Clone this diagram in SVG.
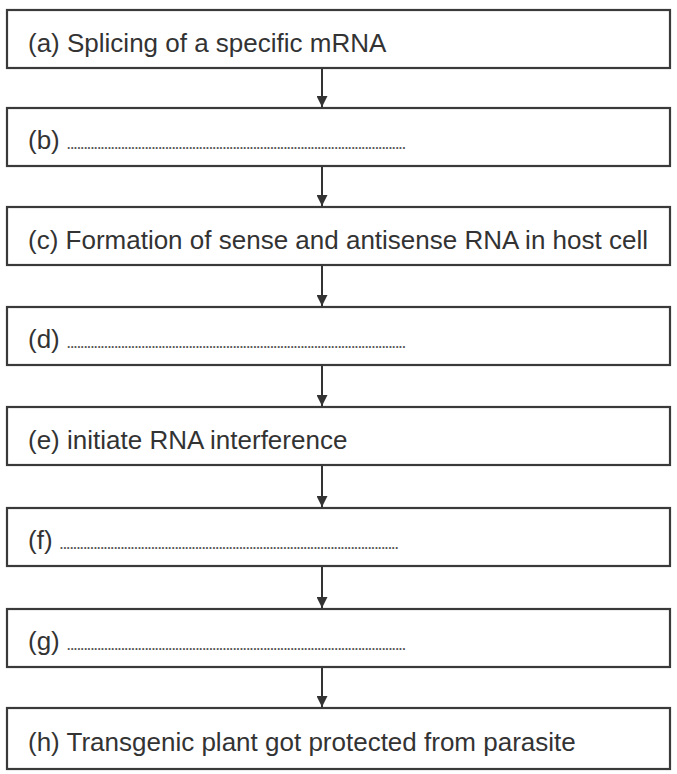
<svg xmlns="http://www.w3.org/2000/svg" width="677" height="774" viewBox="0 0 677 774">
<defs>
<style>
.box{fill:#fff;stroke:#3a3a3a;stroke-width:2.2}
.lbl{font-family:"Liberation Sans",Arial,sans-serif;font-size:26px;fill:#333}
.dots{font-size:12.2px;font-weight:bold;fill:#555}
.conn{stroke:#333;stroke-width:2;fill:none}
</style>
<marker id="ah" viewBox="0 0 10 10" refX="10" refY="5" markerWidth="11" markerHeight="11" markerUnits="userSpaceOnUse" orient="auto">
<path d="M0,0 L10,5 L0,10 Z" fill="#333"/>
</marker>
</defs>
<rect width="677" height="774" fill="#fff"/>
<g id="connectors">
<line class="conn" x1="322" y1="68" x2="322" y2="107" marker-end="url(#ah)"/>
<line class="conn" x1="322" y1="166" x2="322" y2="206" marker-end="url(#ah)"/>
<line class="conn" x1="322" y1="265" x2="322" y2="306" marker-end="url(#ah)"/>
<line class="conn" x1="322" y1="365" x2="322" y2="406" marker-end="url(#ah)"/>
<line class="conn" x1="322" y1="465" x2="322" y2="507" marker-end="url(#ah)"/>
<line class="conn" x1="322" y1="566" x2="322" y2="608" marker-end="url(#ah)"/>
<line class="conn" x1="322" y1="667" x2="322" y2="707" marker-end="url(#ah)"/>
</g>
<g id="node-a">
<rect class="box" x="7" y="10" width="663" height="58"/>
<text class="lbl" x="28" y="52">(a) Splicing of a specific mRNA</text>
</g>
<g id="node-b">
<rect class="box" x="7" y="108" width="663" height="58"/>
<text class="lbl" x="28" y="149">(b) <tspan class="dots">....................................................................................................</tspan></text>
</g>
<g id="node-c">
<rect class="box" x="7" y="207" width="663" height="58"/>
<text class="lbl" x="28" y="249">(c) Formation of sense and antisense RNA in host cell</text>
</g>
<g id="node-d">
<rect class="box" x="7" y="307" width="663" height="58"/>
<text class="lbl" x="28" y="348">(d) <tspan class="dots">....................................................................................................</tspan></text>
</g>
<g id="node-e">
<rect class="box" x="7" y="407" width="663" height="58"/>
<text class="lbl" x="28" y="449">(e) initiate RNA interference</text>
</g>
<g id="node-f">
<rect class="box" x="7" y="508" width="663" height="58"/>
<text class="lbl" x="28" y="549">(f) <tspan class="dots">....................................................................................................</tspan></text>
</g>
<g id="node-g">
<rect class="box" x="7" y="609" width="663" height="58"/>
<text class="lbl" x="28" y="650">(g) <tspan class="dots">....................................................................................................</tspan></text>
</g>
<g id="node-h">
<rect class="box" x="7" y="708" width="663" height="61"/>
<text class="lbl" x="28" y="751">(h) Transgenic plant got protected from parasite</text>
</g>
</svg>
